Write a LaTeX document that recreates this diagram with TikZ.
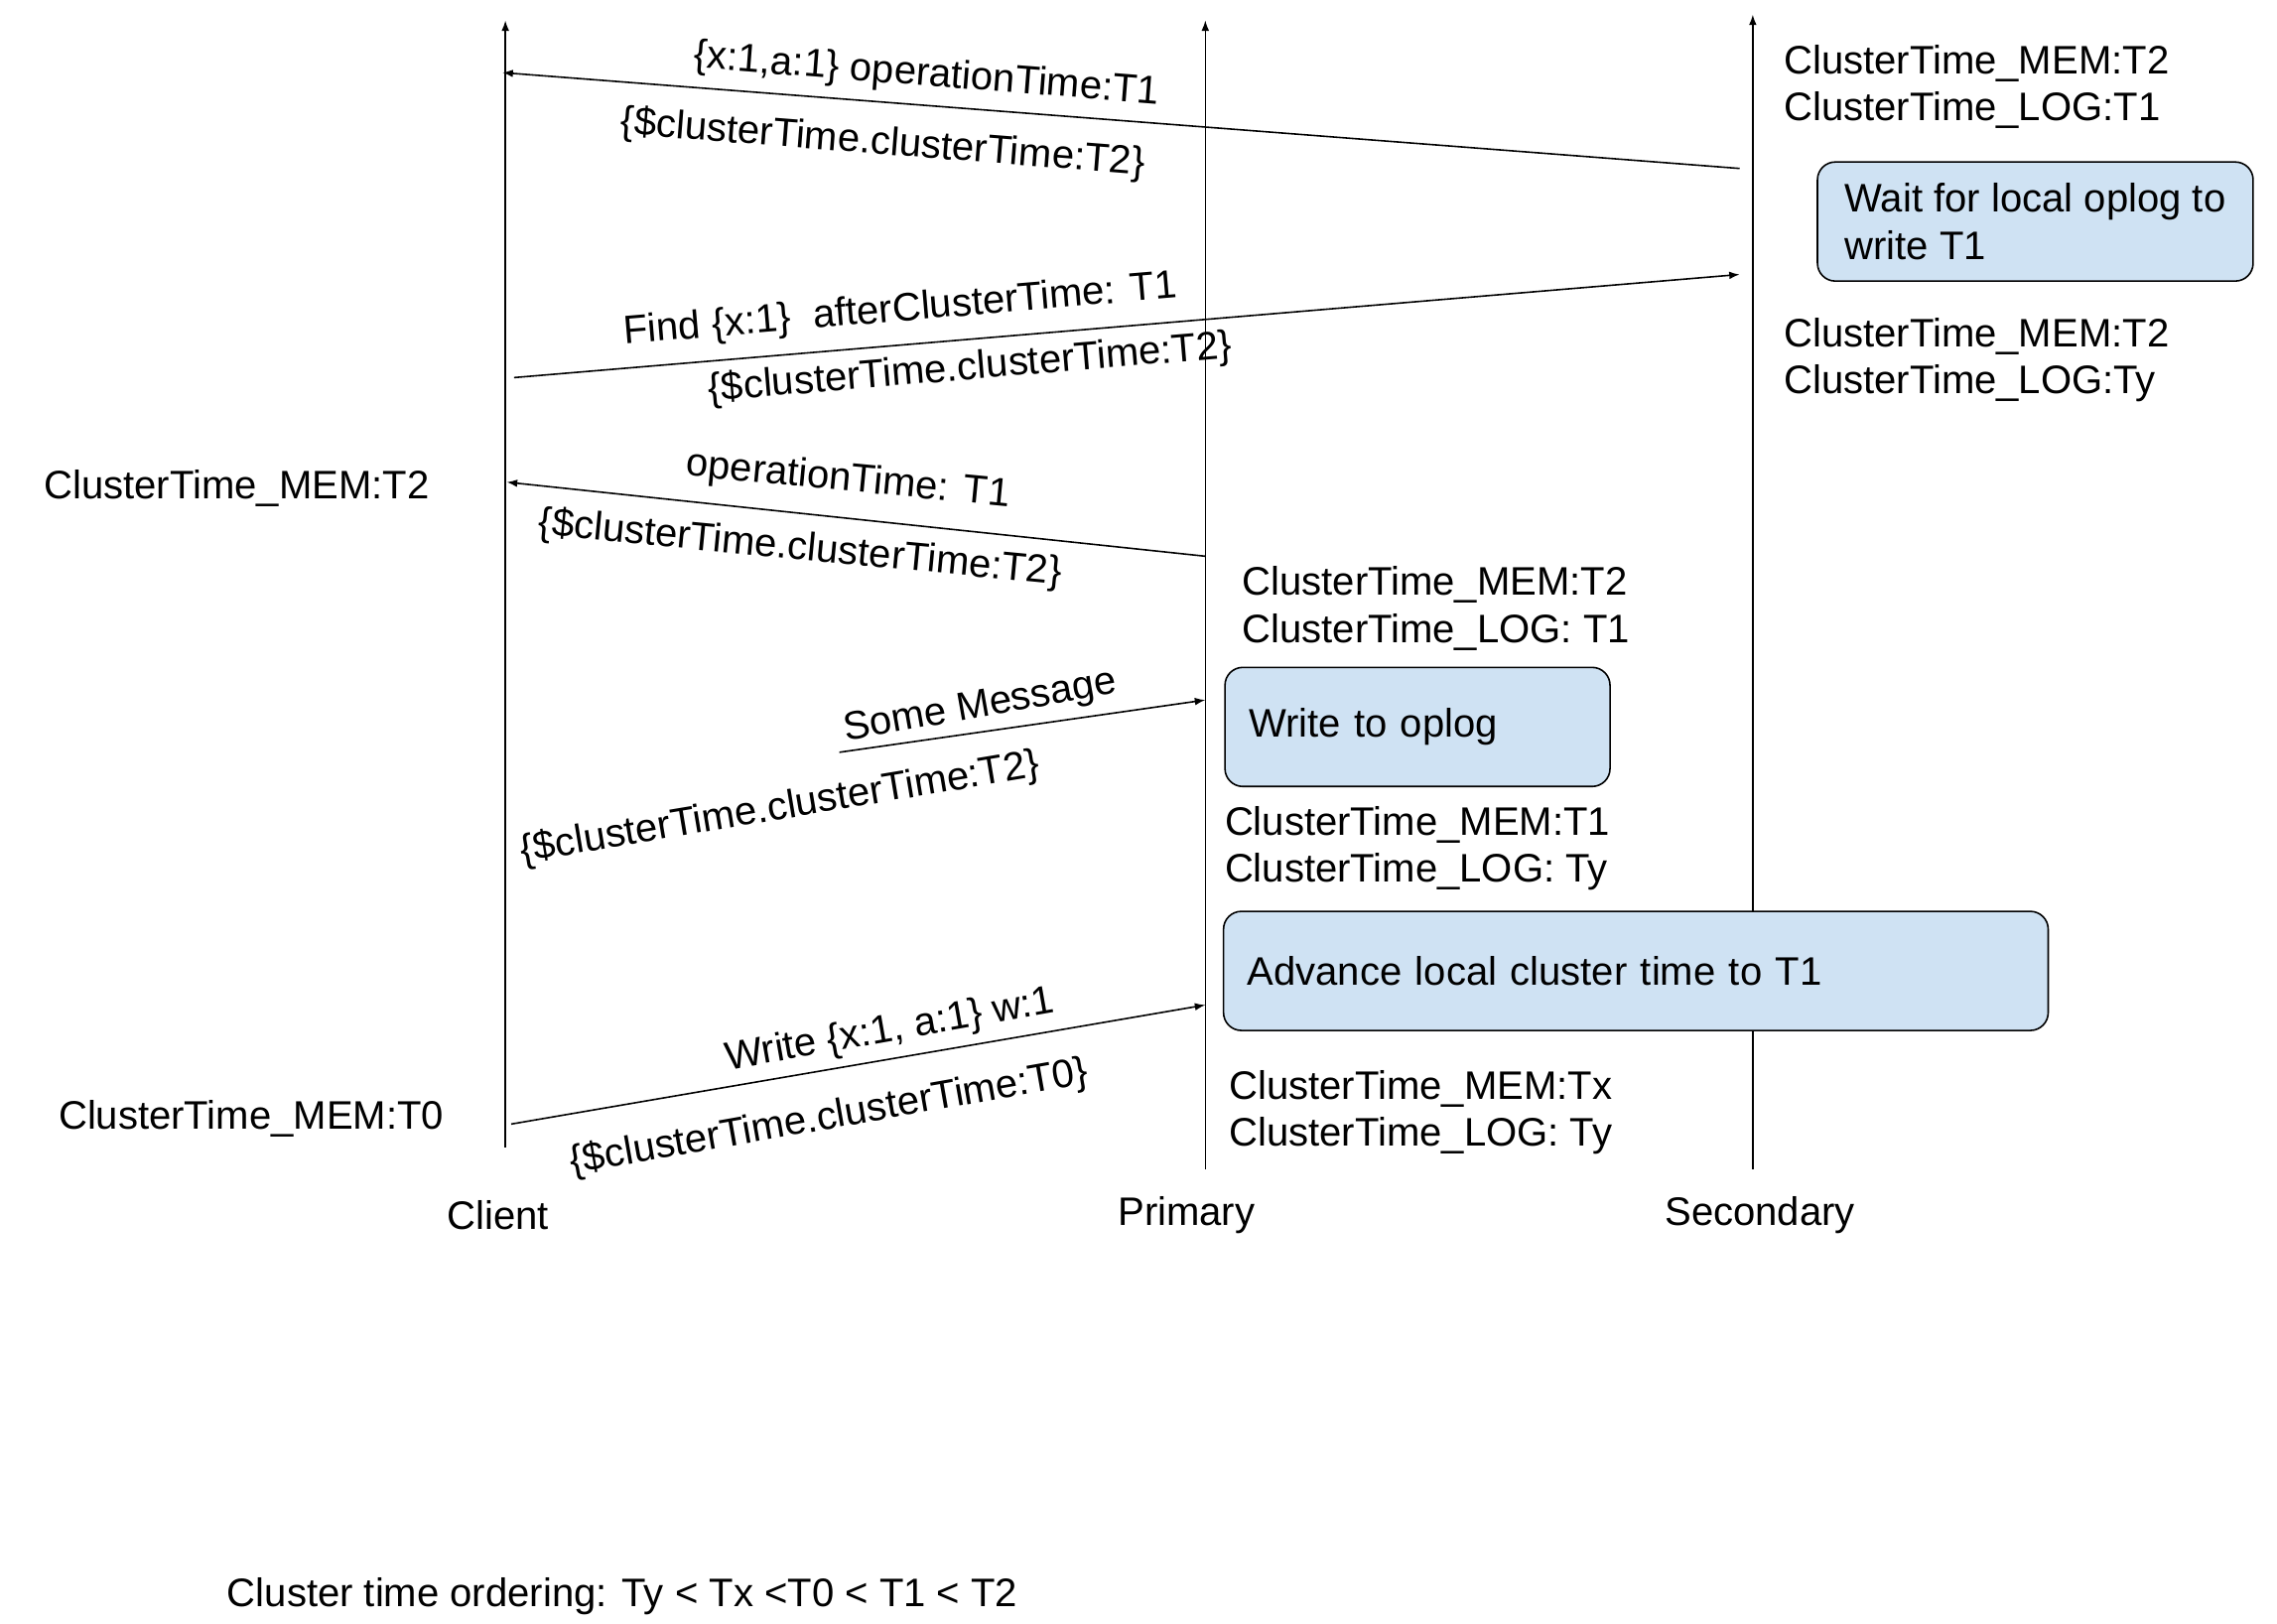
\documentclass[tikz,border=0pt]{standalone}
\usepackage{fontspec}
\setmainfont{Liberation Sans}
\usetikzlibrary{arrows.meta}
\definecolor{opblue}{HTML}{CFE2F3}

\begin{document}
\begin{tikzpicture}[x=0.01463cm,y=-0.01463cm]

\tikzset{lbl/.style={font=\fontsize{11.4pt}{13.4pt}\selectfont,inner sep=0pt},
statelbl/.style={lbl,align=left,anchor=west},
msg/.style={line width=0.45pt,-{Latex[length=3pt,width=2.2pt]}},
lifeline/.style={msg},
opbox/.style={lbl,draw=black,line width=0.45pt,fill=opblue,rounded corners=1.8mm,anchor=north west,align=left,inner xsep=0.24cm,minimum height=1.2cm}}

\fill[white] (0,0) rectangle (1568,1118);
\useasboundingbox (0,0) rectangle (1568,1118);

% Lifelines
\foreach \name/\x/\ytop/\ybot in {client/348/14/790, primary/830/14/805, secondary/1207/10/805} {
  \coordinate (\name top) at (\x,\ytop);
  \coordinate (\name bot) at (\x,\ybot);
  \draw[lifeline] (\name bot) -- (\name top);
}
\node[lbl] (clientlbl) at (343,837) {Client};
\node[lbl] (primarylbl) at (817,837) {Primary};
\node[lbl] (secondarylbl) at (1212,837) {Secondary};

% Messages
\coordinate (m1from) at (1198,116); \coordinate (m1to) at (346,50);
\draw[msg] (m1from) -- (m1to);
\node[lbl,rotate=-4.5] (m1top) at (638,52) {\{x:1,a:1\} operationTime:T1};
\node[lbl,rotate=-4.5] (m1bot) at (608,99) {\{\$clusterTime.clusterTime:T2\}};

\coordinate (m2from) at (354,260); \coordinate (m2to) at (1198,189);
\draw[msg] (m2from) -- (m2to);
\node[lbl,rotate=4.8] (m2top) at (620,214) {Find \{x:1\}\ \ afterClusterTime: T1};
\node[lbl,rotate=4.8] (m2bot) at (668,254) {\{\$clusterTime.clusterTime:T2\}};

\coordinate (m3from) at (830,383); \coordinate (m3to) at (349,332);
\draw[msg] (m3from) -- (m3to);
\node[lbl,rotate=-5.5] (m3top) at (584,331) {operationTime: T1};
\node[lbl,rotate=-5.5] (m3bot) at (551,378) {\{\$clusterTime.clusterTime:T2\}};

\coordinate (m4from) at (578,518); \coordinate (m4to) at (830,482);
\draw[msg] (m4from) -- (m4to);
\node[lbl,rotate=10] (m4top) at (675,487) {Some Message};
\node[lbl,rotate=9.5] (m4bot) at (537,557) {\{\$clusterTime.clusterTime:T2\}};

\coordinate (m5from) at (352,774); \coordinate (m5to) at (830,692);
\draw[msg] (m5from) -- (m5to);
\node[lbl,rotate=10] (m5top) at (613,710) {Write \{x:1, a:1\} w:1};
\node[lbl,rotate=10] (m5bot) at (571,770) {\{\$clusterTime.clusterTime:T0\}};

% Local operations
\node[opbox,minimum width=4.39cm] (waitbox) at (1251,111) {Wait for local oplog to\\write T1};
\node[opbox,text width=3.40cm] (writebox) at (843,459) {Write to oplog};
\node[opbox,text width=7.83cm] (advancebox) at (842,627) {Advance local cluster time to T1};

% Cluster times
\node[statelbl] (secstateA) at (1228,60) {ClusterTime\_MEM:T2\\ClusterTime\_LOG:T1};
\node[statelbl] (secstateB) at (1228,248) {ClusterTime\_MEM:T2\\ClusterTime\_LOG:Ty};
\node[statelbl] (primstateA) at (855,419) {ClusterTime\_MEM:T2\\ClusterTime\_LOG: T1};
\node[statelbl] (primstateB) at (843,584) {ClusterTime\_MEM:T1\\ClusterTime\_LOG: Ty};
\node[statelbl] (primstateC) at (846,766) {ClusterTime\_MEM:Tx\\ClusterTime\_LOG: Ty};
\node[lbl] (clientstateA) at (163,336) {ClusterTime\_MEM:T2};
\node[lbl] (clientstateB) at (173,770) {ClusterTime\_MEM:T0};

\node[lbl,anchor=west] (ordering) at (156,1099) {Cluster time ordering: Ty < Tx <T0 < T1 < T2};

\end{tikzpicture}
\end{document}
